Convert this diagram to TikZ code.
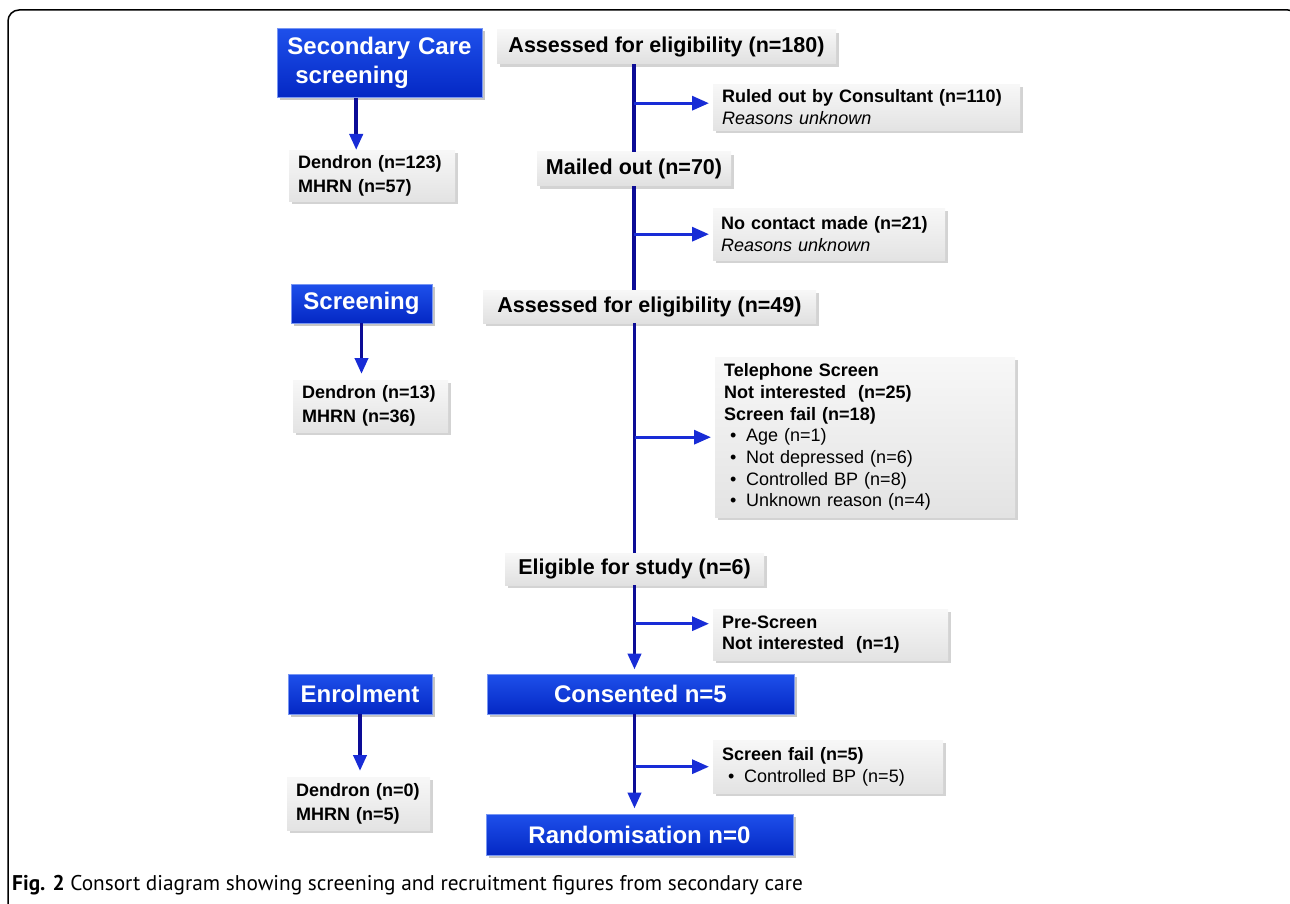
\documentclass[tikz,border=0pt]{standalone}
\usepackage{fontspec}
\setmainfont{Liberation Sans}
\newfontfamily\capfont{PT Sans}
\usetikzlibrary{arrows.meta,shadows}

\definecolor{hdrtop}{RGB}{30,80,235}
\definecolor{hdrbot}{RGB}{4,40,196}
\definecolor{trunkblue}{RGB}{12,12,150}
\definecolor{tipblue}{RGB}{24,44,214}

\tikzset{
  header/.style={rectangle, top color=hdrtop, bottom color=hdrbot, draw=hdrtop!60!white,
    line width=0.8pt, text=white, font=\fontsize{24}{29}\selectfont\bfseries,
    drop shadow={shadow xshift=3pt, shadow yshift=-3pt, opacity=0.45}},
  stage/.style={rectangle, top color=white!97!black, bottom color=white!88!black,
    font=\fontsize{21.5}{26}\selectfont\bfseries,
    drop shadow={shadow xshift=3pt, shadow yshift=-3pt, opacity=0.35}},
  note/.style={rectangle, top color=white!97!black, bottom color=white!89!black,
    anchor=north west, align=left, inner xsep=9pt, inner ysep=2pt,
    font=\fontsize{18}{21.7}\selectfont,
    drop shadow={shadow xshift=3pt, shadow yshift=-3pt, opacity=0.35}},
  trunk/.style={line width=3.8pt, draw=trunkblue},
  tip/.style={-{Triangle[length=16pt,width=13pt,fill=tipblue,color=tipblue]}},
  branch/.style={line width=3.2pt, draw=tipblue, shorten >=4pt,
    -{Triangle[length=17pt,width=14pt]}},
}

\begin{document}
\begin{tikzpicture}[x=1pt, y=-1pt]
% page and frame
\clip (0,0) rectangle (1290,904);
\draw[line width=1.5pt, rounded corners=11pt] (8,915) -- (8,10) -- (1299,10) -- (1299,915);

% left column
\node[header, anchor=north west, minimum width=205pt, minimum height=69pt, text width=185pt, align=left] (sc) at (277,28) {Secondary Care\\\ screening};
\node[note, font=\fontsize{18}{24}\selectfont\bfseries, minimum width=166pt, minimum height=51pt, text width=148pt] (d1) at (289,150) {Dendron (n=123)\\MHRN (n=57)};
\node[header, minimum width=141pt, minimum height=39pt] (scr) at (361.5,303.5) {Screening};
\node[note, font=\fontsize{18}{24}\selectfont\bfseries, minimum width=155pt, minimum height=52pt, text width=137pt] (d2) at (293,380) {Dendron (n=13)\\MHRN (n=36)};
\node[header, minimum width=144pt, minimum height=40pt] (enr) at (360,694) {Enrolment};
\node[note, font=\fontsize{18}{24}\selectfont\bfseries, minimum width=143pt, minimum height=53pt, text width=125pt] (d3) at (287,777) {Dendron (n=0)\\MHRN (n=5)};

% main flow
\node[stage, minimum width=339pt, minimum height=34pt] (a180) at (666.5,47) {Assessed for eligibility (n=180)};
\node[note, minimum width=307pt, minimum height=46pt, text width=289pt] (ruled) at (713,84) {\textbf{Ruled out by Consultant (n=110)}\\\textit{Reasons unknown}};
\node[stage, minimum width=194pt, minimum height=34pt] (mail) at (634,169) {Mailed out (n=70)};
\node[note, minimum width=232pt, minimum height=52pt, text width=216pt, inner xsep=8pt] (nocon) at (713,208) {\textbf{No contact made (n=21)}\\\textit{Reasons unknown}};
\node[stage, minimum width=333pt, minimum height=33pt] (a49) at (649.5,306.5) {Assessed for eligibility (n=49)};
\node[note, minimum width=300pt, minimum height=160pt, text width=282pt] (tel) at (715,357) {\textbf{Telephone Screen}\\\textbf{Not interested~ (n=25)}\\\textbf{Screen fail (n=18)}\\
  \makebox[22pt][l]{\ •}Age (n=1)\\
  \makebox[22pt][l]{\ •}Not depressed (n=6)\\
  \makebox[22pt][l]{\ •}Controlled BP (n=8)\\
  \makebox[22pt][l]{\ •}Unknown reason (n=4)};
\node[stage, minimum width=259pt, minimum height=32pt] (elig) at (634.5,569) {Eligible for study (n=6)};
\node[note, minimum width=235pt, minimum height=51pt, text width=217pt] (pre) at (713,609) {\textbf{Pre-Screen}\\\textbf{Not interested~ (n=1)}};
\node[header, minimum width=307pt, minimum height=40pt] (cons) at (640.5,694) {Consented n=5};
\node[note, minimum width=230pt, minimum height=53pt, text width=212pt] (sfail) at (713,740) {\textbf{Screen fail (n=5)}\\\makebox[22pt][l]{\ •}Controlled BP (n=5)};
\node[header, minimum width=307pt, minimum height=41pt] (rand) at (639.5,834.5) {Randomisation n=0};

% caption
\node[anchor=base west, inner sep=0pt, font=\capfont\fontsize{21.3}{25}\selectfont] (cap) at (12,890) {\textbf{Fig. 2} Consort diagram showing screening and recruitment figures from secondary care};

% left column arrows
\coordinate (a1) at ([xshift=-16pt]d1.north);
\draw[trunk, tip] (a1 |- sc.south) -- (a1);
\draw[trunk, tip, shorten >=6pt] (scr.south) -- (scr.south |- d2.north);
\draw[trunk, tip, shorten >=6pt] (enr.south) -- (enr.south |- d3.north);

% trunk
\draw[trunk] (a180.south -| mail.north) -- (mail.north);
\draw[trunk] (mail.south) -- (mail.south |- a49.north);
\draw[trunk] (a49.south -| elig.north) -- (elig.north);
\draw[trunk, tip, shorten >=4pt] (elig.south) -- (elig.south |- cons.north);
\draw[trunk, tip, shorten >=5pt] (cons.south -| elig.south) -- (elig.south |- rand.north);

% side branches
\coordinate (ruledArr) at ([yshift=4pt]ruled.west);
\draw[branch] (mail.north |- ruledArr) -- (ruledArr);
\draw[branch] (mail.south |- nocon.west) -- (nocon.west);
\draw[branch] (elig.north |- tel.west) -- (tel.west);
\coordinate (preArr) at ([yshift=11pt]pre.west);
\draw[branch] (elig.south |- preArr) -- (preArr);
\draw[branch] (elig.south |- sfail.west) -- (sfail.west);
\end{tikzpicture}
\end{document}
